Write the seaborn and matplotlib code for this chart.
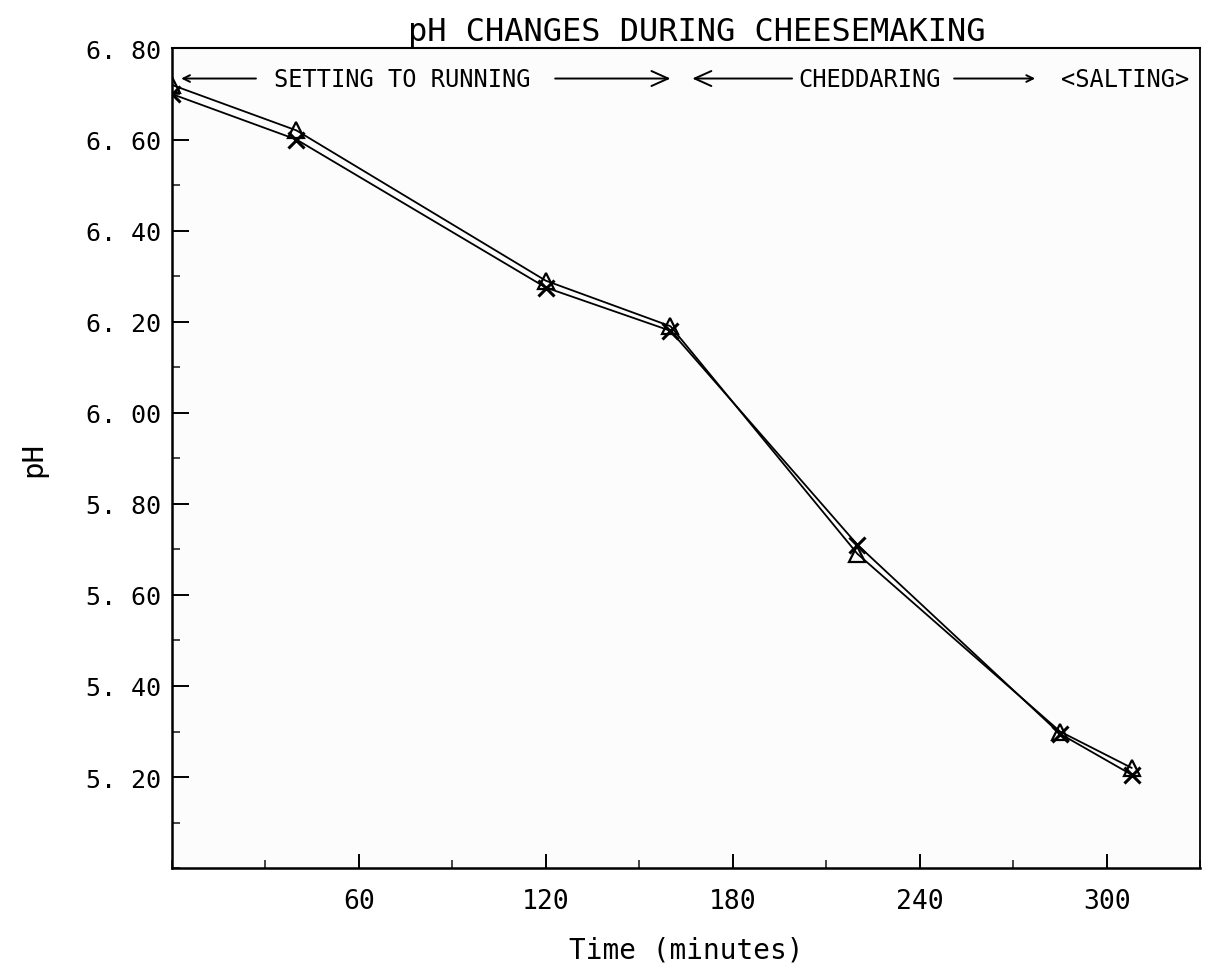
import pandas as pd
import matplotlib
matplotlib.use("Agg")
import matplotlib.pyplot as plt
import seaborn as sns
from matplotlib.ticker import MultipleLocator

sns.set_theme(style="ticks")
plt.rcParams['font.family'] = ['DejaVu Sans Mono', 'DejaVu Sans']
plt.rcParams['text.color'] = 'black'

# data (time in minutes, pH)
time_min = [0, 40, 120, 160, 220, 285, 308]
ph_triangle = [6.72, 6.62, 6.29, 6.19, 5.69, 5.30, 5.22]
ph_cross = [6.70, 6.60, 6.275, 6.18, 5.71, 5.295, 5.205]

ytick_vals = [5.2, 5.4, 5.6, 5.8, 6.0, 6.2, 6.4, 6.6, 6.8]
ytick_text = ["5. 20", "5. 40", "5. 60", "5. 80", "6. 00", "6. 20", "6. 40", "6. 60", "6. 80"]
xtick_vals = [60, 120, 180, 240, 300]

df = pd.DataFrame({'time': time_min, 'tri': ph_triangle, 'cross': ph_cross})

fig = plt.figure(figsize=(12.1, 9.7), dpi=100)
ax = fig.add_axes([0.142, 0.104, 0.850, 0.845])
ax.set_facecolor('#fcfcfc')

sns.lineplot(data=df, x='time', y='tri', ax=ax, color='black', linewidth=1.3,
             marker='^', markersize=11, markerfacecolor='none',
             markeredgecolor='black', markeredgewidth=1.6)
sns.lineplot(data=df, x='time', y='cross', ax=ax, color='black', linewidth=1.3,
             marker='x', markersize=11, markeredgecolor='black', markeredgewidth=2.2)

ax.set_xlim(0, 330)
ax.set_ylim(5.0, 6.8)

ax.set_yticks(ytick_vals)
ax.set_yticklabels(ytick_text)
ax.yaxis.set_minor_locator(MultipleLocator(0.1))
ax.set_xticks(xtick_vals)
ax.set_xticklabels([str(v) for v in xtick_vals])
ax.xaxis.set_minor_locator(MultipleLocator(30))

ax.tick_params(axis='y', which='major', direction='in', length=12, width=1.4,
               labelsize=18, pad=8, colors='black')
ax.tick_params(axis='y', which='minor', direction='in', length=6, width=1.2)
ax.tick_params(axis='x', which='major', direction='in', length=10, width=1.4,
               labelsize=19, pad=14, colors='black')
ax.tick_params(axis='x', which='minor', direction='in', length=6, width=1.2)

for side in ['left', 'bottom', 'top', 'right']:
    ax.spines[side].set_visible(True)
    ax.spines[side].set_color('black')
ax.spines['left'].set_linewidth(1.8)
ax.spines['bottom'].set_linewidth(1.8)
ax.spines['top'].set_linewidth(1.5)
ax.spines['right'].set_linewidth(1.3)

ax.set_xlabel("Time (minutes)", fontsize=20, labelpad=16, color='black')
ax.set_ylabel("pH", fontsize=21, labelpad=28, color='black')
ax.set_title("pH CHANGES DURING CHEESEMAKING", fontsize=23, pad=6, color='black',
             x=0.51)

# phase annotations along the top
y_note = 6.734
arrow = dict(arrowstyle='->', color='black', lw=1.4, shrinkA=0, shrinkB=0)
big_arrow = dict(arrowstyle='->,head_length=1.0,head_width=0.45', color='black',
                 lw=1.4, shrinkA=0, shrinkB=0)
ax.annotate('', xy=(3, y_note), xytext=(27, y_note), arrowprops=arrow)
ax.text(74, y_note, "SETTING TO RUNNING", ha='center', va='center', fontsize=17,
        color='black')
ax.annotate('', xy=(160, y_note), xytext=(123, y_note), arrowprops=big_arrow)
ax.annotate('', xy=(167, y_note), xytext=(199, y_note), arrowprops=big_arrow)
ax.text(224, y_note, "CHEDDARING", ha='center', va='center', fontsize=17,
        color='black')
ax.annotate('', xy=(277, y_note), xytext=(251, y_note), arrowprops=arrow)
ax.text(306, y_note, "<SALTING>", ha='center', va='center', fontsize=17,
        color='black')

fig.savefig("out.png", dpi=100, facecolor='white')
